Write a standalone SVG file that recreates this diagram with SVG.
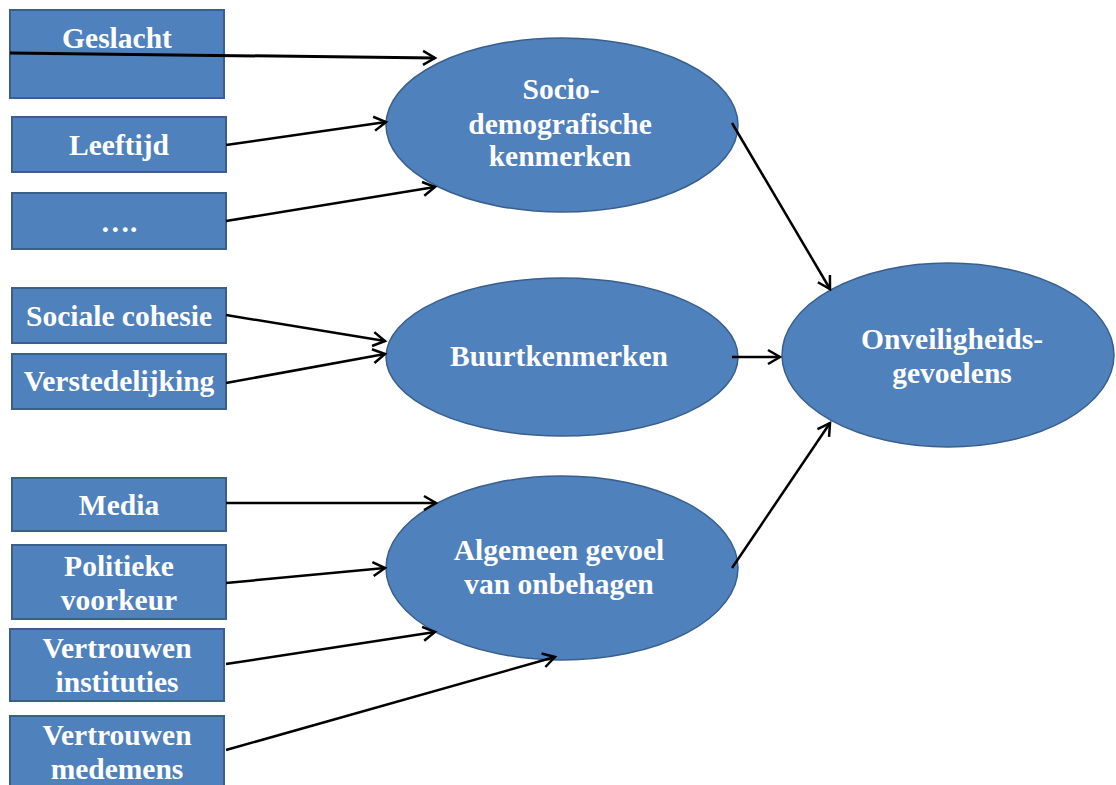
<svg xmlns="http://www.w3.org/2000/svg" width="1116" height="785" viewBox="0 0 1116 785">
<style>
.box{fill:#4F81BD;stroke:#3A5F8C;stroke-width:2}
.ell{fill:#4F81BD;stroke:#3A5F8C;stroke-width:1.5}
.t{font-family:"Liberation Serif","Times New Roman",serif;font-weight:bold;font-size:29.5px;fill:#ffffff;text-anchor:middle}
.c{stroke:#000;stroke-width:2.5;fill:none;marker-end:url(#ah)}
</style>
<defs>
<marker id="ah" markerUnits="userSpaceOnUse" markerWidth="20" markerHeight="20" viewBox="-14 -10 16 20" refX="0" refY="0" orient="auto">
<path d="M-12,-7 L0,0 L-12,7" fill="none" stroke="#000" stroke-width="2.5"/>
</marker>
</defs>
<rect width="1116" height="785" fill="#ffffff"/>
<g id="n-geslacht"><rect class="box" x="10" y="10" width="214" height="88"/><text class="t" x="117" y="48">Geslacht</text></g>
<g id="n-leeftijd"><rect class="box" x="12" y="117" width="214" height="55"/><text class="t" x="119" y="155">Leeftijd</text></g>
<g id="n-dots"><rect class="box" x="12" y="193" width="214" height="56"/><text class="t" x="119" y="232">….</text></g>
<g id="n-sociale"><rect class="box" x="12" y="288" width="214" height="55"/><text class="t" x="119" y="326">Sociale cohesie</text></g>
<g id="n-versted"><rect class="box" x="12" y="354" width="214" height="55"/><text class="t" x="119" y="391">Verstedelijking</text></g>
<g id="n-media"><rect class="box" x="12" y="478" width="214" height="53"/><text class="t" x="119" y="515">Media</text></g>
<g id="n-politiek"><rect class="box" x="12" y="545" width="214" height="74"/><text class="t" x="119" y="576">Politieke</text><text class="t" x="119" y="610">voorkeur</text></g>
<g id="n-instituties"><rect class="box" x="10" y="629" width="214" height="72"/><text class="t" x="117" y="658">Vertrouwen</text><text class="t" x="117" y="692">instituties</text></g>
<g id="n-medemens"><rect class="box" x="10" y="716" width="214" height="80"/><text class="t" x="117" y="745">Vertrouwen</text><text class="t" x="117" y="779">medemens</text></g>
<g id="n-socio"><ellipse class="ell" cx="562" cy="125" rx="176" ry="87"/><text class="t" x="561" y="99">Socio-</text><text class="t" x="560" y="134">demografische</text><text class="t" x="560" y="166">kenmerken</text></g>
<g id="n-buurt"><ellipse class="ell" cx="562" cy="357" rx="176" ry="79"/><text class="t" x="559" y="366">Buurtkenmerken</text></g>
<g id="n-algemeen"><ellipse class="ell" cx="562" cy="568" rx="176" ry="92"/><text class="t" x="559" y="560">Algemeen gevoel</text><text class="t" x="559" y="594">van onbehagen</text></g>
<g id="n-onveil"><ellipse class="ell" cx="948" cy="355" rx="166" ry="92"/><text class="t" x="952" y="349">Onveiligheids-</text><text class="t" x="952" y="383">gevoelens</text></g>
<g id="connectors">
<path class="c" d="M10,53 L435,58" style="stroke-width:3"/>
<path class="c" d="M226,145 L386,122"/>
<path class="c" d="M226,221 L435,187"/>
<path class="c" d="M226,315 L385,341"/>
<path class="c" d="M226,383 L385,354"/>
<path class="c" d="M226,503 L436,503"/>
<path class="c" d="M226,583 L385,568"/>
<path class="c" d="M226,664 L435,632"/>
<path class="c" d="M226,750 L555,657"/>
<path class="c" d="M732,123 L830,289"/>
<path class="c" d="M732,357 L780,357"/>
<path class="c" d="M732,568 L830,423"/>
</g>
</svg>
